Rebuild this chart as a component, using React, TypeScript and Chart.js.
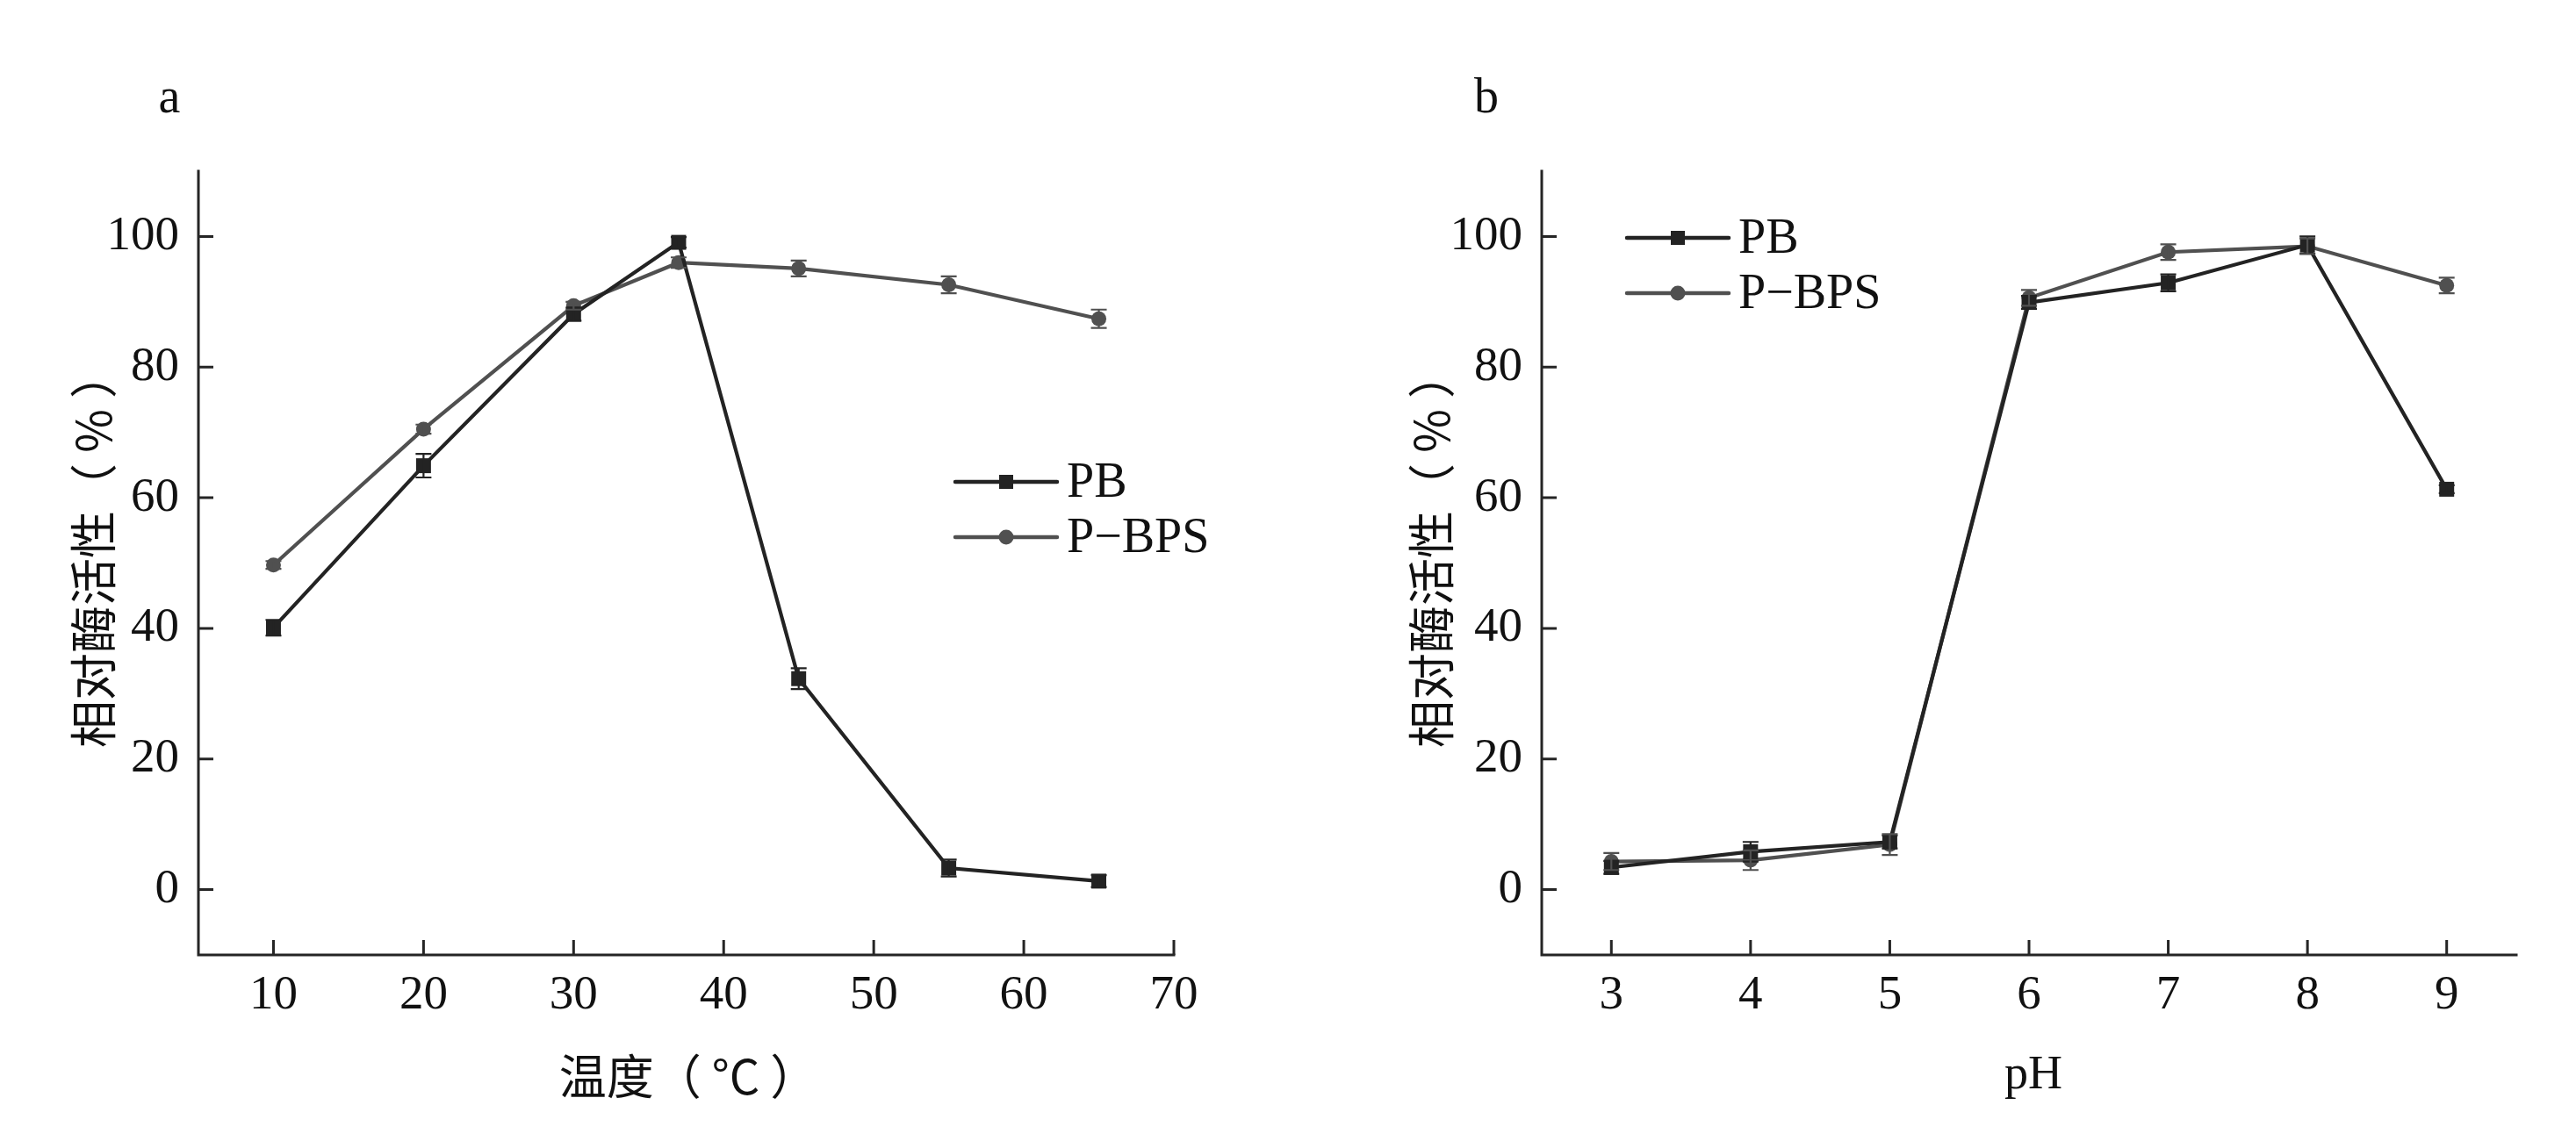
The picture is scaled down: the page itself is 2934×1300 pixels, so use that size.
import { useEffect, useRef } from 'react';
import { Chart, registerables } from 'chart.js';

Chart.register(...registerables);

// panel a: temperature
const tempX = [10, 20, 30, 37, 45, 55, 65];
const tempPB = [40.1, 64.9, 88.1, 99.1, 32.3, 3.3, 1.3];
const tempPBErr = [1.2, 1.8, 1.0, 0.8, 1.6, 1.3, 0.9];
const tempPBPS = [49.7, 70.5, 89.4, 96.0, 95.1, 92.6, 87.4];
const tempPBPSErr = [0.6, 0.7, 0.6, 0.8, 1.2, 1.3, 1.4];
const tempTicks = [10, 20, 30, 40, 50, 60, 70];

// panel b: pH
const phX = [3, 4, 5, 6, 7, 8, 9];
const phPB = [3.4, 5.8, 7.3, 89.9, 92.9, 98.7, 61.3];
const phPBErr = [1.0, 1.5, 1.0, 1.0, 1.3, 1.3, 0.6];
const phPBPS = [4.3, 4.5, 6.9, 90.6, 97.6, 98.5, 92.5];
const phPBPSErr = [1.3, 1.5, 1.6, 1.2, 1.2, 1.2, 1.2];
const phTicks = [3, 4, 5, 6, 7, 8, 9];

const yTicks = [0, 20, 40, 60, 80, 100];
const seriesNames = ['PB', 'P\u2212BPS'];

const PB_COLOR = '#232323';
const PBPS_COLOR = '#505050';
const AXIS_COLOR = '#252525';
const FONT = '"Liberation Serif", "Times New Roman", "Noto Sans CJK SC", serif';
const CJK_FONT = '"Noto Sans CJK SC", "Liberation Serif", serif';

interface PanelProps {
  xs: number[];
  pb: number[];
  pbErr: number[];
  pbps: number[];
  pbpsErr: number[];
  xTicks: number[];
  xMin: number;
  xMax: number;
  yAxisWidth: number;
  rightPad: number;
  panelLabel: string;
  labelX: number;
  yTitleX: number;
  xTitle: string;
  xTitleFont: string;
  xTitleX: number;
  legendX: number;
  legendY: number;
}

function Panel(props: PanelProps) {
  const canvasRef = useRef<HTMLCanvasElement>(null);

  useEffect(() => {
    if (!canvasRef.current) return;
    const errs = [props.pbErr, props.pbpsErr];

    const decorations = {
      id: 'decorations',
      afterDatasetsDraw(chart: any) {
        const ctx = chart.ctx;
        const ys = chart.scales.y;
        ctx.save();
        // error bars
        chart.data.datasets.forEach((ds: any, di: number) => {
          const meta = chart.getDatasetMeta(di);
          ctx.strokeStyle = ds.borderColor;
          ctx.lineWidth = 2.2;
          meta.data.forEach((pt: any, i: number) => {
            const v = ds.data[i].y;
            const e = errs[di][i];
            const top = ys.getPixelForValue(v + e);
            const bot = ys.getPixelForValue(v - e);
            ctx.beginPath();
            ctx.moveTo(pt.x, top);
            ctx.lineTo(pt.x, bot);
            ctx.moveTo(pt.x - 9, top);
            ctx.lineTo(pt.x + 9, top);
            ctx.moveTo(pt.x - 9, bot);
            ctx.lineTo(pt.x + 9, bot);
            ctx.stroke();
          });
        });
        ctx.restore();
      },
      afterDraw(chart: any) {
        const ctx = chart.ctx;
        const { left, right, top, bottom } = chart.chartArea;
        const xs = chart.scales.x;
        const ys = chart.scales.y;
        ctx.save();
        // axis lines
        ctx.strokeStyle = AXIS_COLOR;
        ctx.lineWidth = 3;
        ctx.lineCap = 'square';
        ctx.beginPath();
        ctx.moveTo(left, top);
        ctx.lineTo(left, bottom);
        ctx.lineTo(right, bottom);
        ctx.stroke();
        // inward ticks
        ctx.lineCap = 'butt';
        ctx.beginPath();
        xs.ticks.forEach((t: any) => {
          const px = xs.getPixelForValue(t.value);
          ctx.moveTo(px, bottom);
          ctx.lineTo(px, bottom - 17);
        });
        ys.ticks.forEach((t: any) => {
          const py = ys.getPixelForValue(t.value);
          ctx.moveTo(left, py);
          ctx.lineTo(left + 17, py);
        });
        ctx.stroke();

        // legend
        ctx.textBaseline = 'middle';
        ctx.textAlign = 'left';
        chart.data.datasets.forEach((ds: any, di: number) => {
          const ly = props.legendY + di * 63;
          const lx1 = props.legendX;
          const lx2 = props.legendX + 116;
          ctx.strokeStyle = ds.borderColor;
          ctx.lineWidth = 4.5;
          ctx.lineCap = 'round';
          ctx.beginPath();
          ctx.moveTo(lx1, ly);
          ctx.lineTo(lx2, ly);
          ctx.stroke();
          ctx.fillStyle = ds.borderColor;
          const mx = (lx1 + lx2) / 2;
          if (di === 0) {
            ctx.fillRect(mx - 8, ly - 8, 16, 16);
          } else {
            ctx.beginPath();
            ctx.arc(mx, ly, 8.5, 0, Math.PI * 2);
            ctx.fill();
          }
          ctx.fillStyle = '#111';
          ctx.font = `56px ${FONT}`;
          ctx.fillText(ds.label, lx2 + 11, ly + 2);
        });

        // panel label
        ctx.fillStyle = '#111';
        ctx.font = `56px ${FONT}`;
        ctx.textAlign = 'center';
        ctx.textBaseline = 'alphabetic';
        ctx.fillText(props.panelLabel, props.labelX, 128);

        // x title
        ctx.textBaseline = 'middle';
        ctx.font = `54px ${props.xTitleFont}`;
        ctx.fillText(props.xTitle, props.xTitleX, 1226);

        // y title
        ctx.translate(props.yTitleX, 626);
        ctx.rotate(-Math.PI / 2);
        ctx.font = `54px ${CJK_FONT}`;
        ctx.fillText('相对酶活性（ % ）', 0, 0);
        ctx.restore();
      },
    };

    const chart = new Chart(canvasRef.current, {
      type: 'line',
      data: {
        datasets: [
          {
            label: seriesNames[0],
            data: props.xs.map((x, i) => ({ x, y: props.pb[i] })),
            borderColor: PB_COLOR,
            backgroundColor: PB_COLOR,
            borderWidth: 4.2,
            pointStyle: 'rect',
            pointRadius: 12,
            pointBorderWidth: 0,
            tension: 0,
          },
          {
            label: seriesNames[1],
            data: props.xs.map((x, i) => ({ x, y: props.pbps[i] })),
            borderColor: PBPS_COLOR,
            backgroundColor: PBPS_COLOR,
            borderWidth: 4.2,
            pointStyle: 'circle',
            pointRadius: 8.5,
            pointBorderWidth: 0,
            tension: 0,
          },
        ],
      },
      options: {
        responsive: false,
        animation: false,
        events: [],
        layout: { padding: { top: 195, right: props.rightPad, left: 0, bottom: 0 } },
        plugins: {
          legend: { display: false },
          tooltip: { enabled: false },
        },
        scales: {
          x: {
            type: 'linear',
            min: props.xMin,
            max: props.xMax,
            grid: { display: false, drawTicks: false },
            border: { display: false },
            afterBuildTicks: (scale: any) => {
              scale.ticks = props.xTicks.map(v => ({ value: v }));
            },
            afterFit: (scale: any) => {
              scale.height = 212;
            },
            ticks: {
              color: '#111',
              padding: 14,
              font: { family: FONT, size: 55 },
              maxRotation: 0,
            },
          },
          y: {
            type: 'linear',
            min: -10,
            max: 110,
            grid: { display: false, drawTicks: false },
            border: { display: false },
            afterBuildTicks: (scale: any) => {
              scale.ticks = yTicks.map(v => ({ value: v }));
            },
            afterFit: (scale: any) => {
              scale.width = props.yAxisWidth;
            },
            ticks: {
              color: '#111',
              padding: 22,
              font: { family: FONT, size: 55 },
            },
          },
        },
      },
      plugins: [decorations],
    } as any);

    return () => {
      chart.destroy();
    };
  }, [props]);

  return <canvas ref={canvasRef} width={1467} height={1300} style={{ display: 'block', width: 1467, height: 1300 }} />;
}

const panelA: PanelProps = {
  xs: tempX,
  pb: tempPB,
  pbErr: tempPBErr,
  pbps: tempPBPS,
  pbpsErr: tempPBPSErr,
  xTicks: tempTicks,
  xMin: 5,
  xMax: 70,
  yAxisWidth: 226,
  rightPad: 130,
  panelLabel: 'a',
  labelX: 193,
  yTitleX: 106,
  xTitle: '温度（ °C ）',
  xTitleFont: CJK_FONT,
  xTitleX: 784,
  legendX: 1088,
  legendY: 549,
};

const panelB: PanelProps = {
  xs: phX,
  pb: phPB,
  pbErr: phPBErr,
  pbps: phPBPS,
  pbpsErr: phPBPSErr,
  xTicks: phTicks,
  xMin: 2.5,
  xMax: 9.5,
  yAxisWidth: 289,
  rightPad: 68,
  panelLabel: 'b',
  labelX: 226,
  yTitleX: 163,
  xTitle: 'pH',
  xTitleFont: FONT,
  xTitleX: 849,
  legendX: 386,
  legendY: 271,
};

export default function App() {
  useEffect(() => {
    document.body.style.margin = '0';
    document.body.style.background = '#fff';
  }, []);

  return (
    <div style={{ display: 'flex', width: 2934, height: 1300, background: '#fff' }}>
      <Panel {...panelA} />
      <Panel {...panelB} />
    </div>
  );
}
